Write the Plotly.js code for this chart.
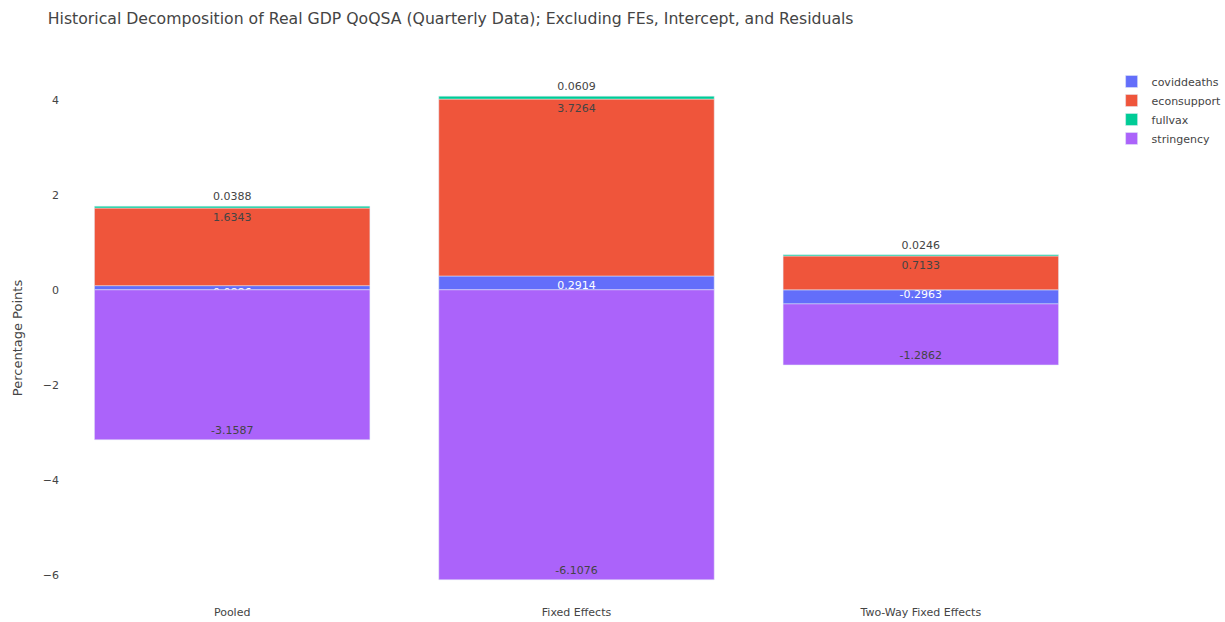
<!DOCTYPE html>
<html>
<head>
<meta charset="utf-8">
<script src="https://cdn.plot.ly/plotly-3.0.1.min.js"></script>
<style>html,body{margin:0;padding:0;background:#fff;}#chart{width:1225px;height:622px;}</style>
</head>
<body>
<div id="chart"></div>
<script>
const models = ["Pooled", "Fixed Effects", "Two-Way Fixed Effects"];
const coviddeaths = [0.0886, 0.2914, -0.2963];
const econsupport = [1.6343, 3.7264, 0.7133];
const fullvax = [0.0388, 0.0609, 0.0246];
const stringency = [-3.1587, -6.1076, -1.2862];

const series = [
  {name: "coviddeaths", y: coviddeaths, color: "#636EFA"},
  {name: "econsupport", y: econsupport, color: "#EF553B"},
  {name: "fullvax", y: fullvax, color: "#00CC96"},
  {name: "stringency", y: stringency, color: "#AB63FA"}
];

const traces = series.map(s => ({
  type: "bar",
  name: s.name,
  x: models,
  y: s.y,
  text: s.y.map(v => v.toFixed(4)),
  textposition: "auto",
  constraintext: "none",
  marker: {color: s.color, line: {color: "#E5ECF6", width: 0.5}},
  textfont: {size: 11}
}));

const layout = {
  barmode: "relative",
  width: 1225,
  height: 622,
  paper_bgcolor: "#ffffff",
  plot_bgcolor: "#ffffff",
  font: {family: '"DejaVu Sans", Verdana, sans-serif', size: 11, color: "#444444"},
  title: {
    text: "Historical Decomposition of Real GDP QoQSA (Quarterly Data); Excluding FEs, Intercept, and Residuals",
    font: {size: 15.7, color: "#444444"},
    x: 0.039, xanchor: "left", xref: "container",
    y: 0.971, yanchor: "middle", yref: "container"
  },
  margin: {l: 60, r: 132, t: 72, b: 18, autoexpand: false},
  xaxis: {showgrid: false, zeroline: false, automargin: false, ticks: "", showline: false},
  yaxis: {
    title: {text: "Percentage Points", standoff: 17},
    showgrid: false, zeroline: false, automargin: false, ticks: "", showline: false,
    range: [-6.6168, 4.5879]
  },
  legend: {x: 1.018, y: 1.0094, xanchor: "left", yanchor: "top", bgcolor: "rgba(0,0,0,0)", font: {size: 11}},
  bargap: 0.2,
  showlegend: true
};

Plotly.newPlot("chart", traces, layout, {displayModeBar: false});
</script>
</body>
</html>
